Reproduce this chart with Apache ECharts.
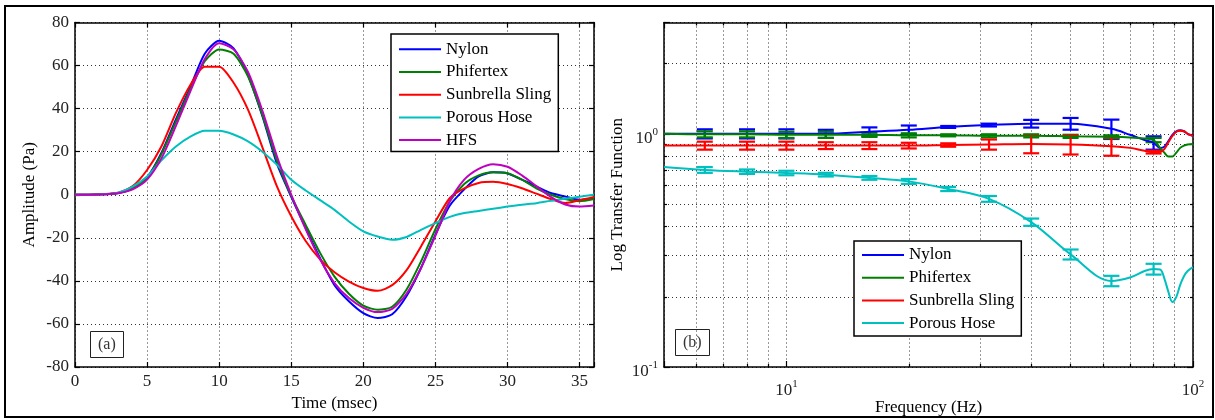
<!DOCTYPE html>
<html><head><meta charset="utf-8">
<script src="https://cdn.jsdelivr.net/npm/echarts@6/dist/echarts.min.js"></script>
<style>html,body{margin:0;padding:0;background:#fff}#c{width:1215px;height:420px}</style>
</head><body><div id="c"></div>
<script>
// ---------- Panel (a): time-domain pulses ----------
const timeMs = [0,1,2,3,4,5,6,7,8,9,10,11,12,13,14,15,16,17,18,19,20,21,22,23,24,25,26,27,28,29,30,31,32,33,34,35,36];
const nylonA = [0,0,0.2,0.8,3,8,19.5,35,50,65.5,71.5,68,55.5,36.5,14.5,-1,-15.5,-29.5,-42,-49.5,-55,-57.3,-55.5,-47,-34,-18.5,-5,2.5,8.5,10.4,9.9,7,3.9,0.8,-0.8,-2.3,-1.6];
const phifertexA = [0,0,0.2,0.8,3,8,19,34,49,62,67.5,65.5,55,37,16,-0.5,-14,-27,-38,-46,-51.5,-53.4,-52,-44,-31,-16,-3,5,9,10.5,10,7,3,0,-2,-3,-2];
const sunbrellaA = [0,0,0.3,1,4,11.5,22.5,38,51,59.5,59.5,52,39.5,22,4,-10,-21.5,-30,-36,-40.3,-43.3,-44.6,-42,-35,-24,-12.4,-1.5,3,5.5,6,5,3,0.5,-2,-3.8,-2.5,-1];
const porousA = [0,0,0.3,1,3.8,8.5,16,22.4,27,29.7,29.7,28,24.8,20,14,7,2,-2.5,-7,-12.4,-17,-19.4,-20.9,-19.6,-16.3,-13.2,-10.3,-8.5,-7.5,-6.5,-5.5,-4.6,-3.9,-2.8,-1.9,-0.9,0];
const hfsA = [0,0,0.2,0.7,2.5,7,17,32,48,63,70.4,67.5,57,39,18,0,-16,-30,-41,-48,-52.5,-54.5,-53,-46,-34,-19,-3,7,12,14.2,13,9,4,-1,-4.5,-5.5,-5];

// ---------- Panel (b): transfer functions ----------
const freqHz = [5,6.3,8,10,12.5,16,20,25,31.5,40,50,63,70,76,80,83,85,87,89,91,93,95,97,100];
const nylonB = [1.0,1.0,1.0,1.0,1.0,1.02,1.04,1.07,1.09,1.105,1.105,1.05,0.99,0.94,0.915,0.87,0.88,0.93,0.99,1.025,1.035,1.025,1.0,0.98];
const phifertexB = [1.0,0.995,0.995,0.99,0.99,0.99,0.985,0.985,0.98,0.98,0.975,0.97,0.965,0.955,0.94,0.87,0.83,0.80,0.80,0.83,0.87,0.89,0.90,0.905];
const sunbrellaB = [0.89,0.89,0.89,0.89,0.89,0.89,0.89,0.895,0.9,0.905,0.9,0.885,0.87,0.845,0.835,0.835,0.86,0.92,0.98,1.02,1.03,1.025,1.0,0.98];
const porousB = [0.72,0.70,0.688,0.679,0.668,0.647,0.625,0.58,0.526,0.418,0.304,0.234,0.242,0.258,0.263,0.262,0.24,0.21,0.19,0.2,0.225,0.245,0.258,0.268];
// error bars (third-octave centres), half-widths
const errFreqHz = [6.3,8,10,12.5,16,20,25,31.5,40,50,63,80];
const nylonErr = [0.045,0.045,0.045,0.04,0.045,0.045,0.01,0.015,0.042,0.064,0.1,0.06];
const phifertexErr = [0.03,0.03,0.03,0.03,0.02,0.02,0.01,0.015,0.015,0.015,0.015,0.02];
const sunbrellaErr = [0.035,0.035,0.035,0.03,0.03,0.025,0.015,0.045,0.08,0.085,0.08,0.012];
const porousErr = [0.02,0.015,0.015,0.012,0.012,0.015,0.012,0.015,0.015,0.015,0.012,0.014];

const namesA = ['Nylon','Phifertex','Sunbrella Sling','Porous Hose','HFS'];
const namesB = ['Nylon','Phifertex','Sunbrella Sling','Porous Hose'];
const xTicksA = [0,5,10,15,20,25,30,35];

const colors = ['#0000ff','#008000','#ff0000','#00bfbf','#bf00bf'];
const serif = 'Liberation Serif';
const axisLineStyle = {color:'#000', width:1.5};
const dotStyle = {color:'#333', width:1, type:[1,3]};
const labelColor = '#222';

const chart = echarts.init(document.getElementById('c'), null, {renderer:'canvas'});

const seriesA = [nylonA, phifertexA, sunbrellaA, porousA, hfsA].map((arr, k) => ({
  type:'line', name:namesA[k], xAxisIndex:0, yAxisIndex:0,
  data: timeMs.map((t,i)=>[t, arr[i]]),
  showSymbol:false, symbol:'none', smooth:0.25, color:colors[k],
  lineStyle:{width:2, color:colors[k]}, z:3
}));

const seriesB = [];
[[nylonB,nylonErr],[phifertexB,phifertexErr],[sunbrellaB,sunbrellaErr],[porousB,porousErr]].forEach((pair,k) => {
  const arr = pair[0], err = pair[1];
  seriesB.push({
    type:'line', name:namesB[k], xAxisIndex:2, yAxisIndex:2,
    data: freqHz.map((f,i)=>[f, arr[i]]),
    showSymbol:false, symbol:'none', smooth:0.35, color:colors[k],
    lineStyle:{width:2, color:colors[k]}, z:3
  });
  const errData = errFreqHz.map((f,i) => {
    const c = arr[freqHz.indexOf(f)];
    return [f, c - err[i], c + err[i]];
  });
  seriesB.push({
    type:'custom', name:namesB[k] + ' error', xAxisIndex:2, yAxisIndex:2,
    data: errData, clip:false, z:3,
    encode:{x:0, y:[1,2]},
    renderItem: function(params, api){
      const f = api.value(0);
      const lo = api.coord([f, api.value(1)]);
      const hi = api.coord([f, api.value(2)]);
      const hw = 8;
      const st = {stroke:colors[k], lineWidth:2.2};
      return {type:'group', children:[
        {type:'line', shape:{x1:lo[0], y1:lo[1], x2:hi[0], y2:hi[1]}, style:st},
        {type:'line', shape:{x1:lo[0]-hw, y1:lo[1], x2:lo[0]+hw, y2:lo[1]}, style:st},
        {type:'line', shape:{x1:hi[0]-hw, y1:hi[1], x2:hi[0]+hw, y2:hi[1]}, style:st}
      ]};
    }
  });
});

function powLabel(v){
  const e = Math.log10(v), r = Math.round(e);
  if (Math.abs(e - r) > 1e-6) return '';
  return '{b|10}{s|' + r + '}';
}
const powRich = {
  b:{fontSize:17, fontFamily:serif, color:labelColor, lineHeight:20, verticalAlign:'bottom'},
  s:{fontSize:11, fontFamily:serif, color:labelColor, lineHeight:9, verticalAlign:'top'}
};
const nameStyle = {fontSize:17, fontFamily:serif, color:'#000'};
const tickStyle = {color:'#000', width:1.2};

function linX(pos, main){
  return {gridIndex:0, type:'value', min:0, max:36, interval:5, position:pos,
    axisLine:{show:true, onZero:false, lineStyle:axisLineStyle},
    axisTick:{show:true, inside:true, length:5, lineStyle:tickStyle},
    axisLabel:{show:main, margin:6, color:labelColor, fontSize:17, fontFamily:serif,
      formatter: v => xTicksA.indexOf(v) >= 0 ? String(v) : ''},
    splitLine:{show:main, lineStyle:dotStyle},
    name: main ? 'Time (msec)' : '', nameLocation:'middle', nameGap:25, nameTextStyle:nameStyle};
}
function linY(pos, main){
  return {gridIndex:0, type:'value', min:-80, max:80, interval:20, position:pos,
    axisLine:{show:true, onZero:false, lineStyle:axisLineStyle},
    axisTick:{show:true, inside:true, length:5, lineStyle:tickStyle},
    axisLabel:{show:main, margin:6, color:labelColor, fontSize:17, fontFamily:serif},
    splitLine:{show:main, lineStyle:dotStyle},
    name: main ? 'Amplitude (Pa)' : '', nameLocation:'middle', nameGap:37, nameTextStyle:nameStyle};
}
function logX(pos, main){
  return {gridIndex:1, type:'log', logBase:10, min:5, max:100, position:pos,
    axisLine:{show:true, onZero:false, lineStyle:axisLineStyle},
    axisTick:{show:true, inside:true, length:6, lineStyle:tickStyle},
    minorTick:{show:true, splitNumber:9, length:3, lineStyle:tickStyle},
    axisLabel:{show:main, margin:12, formatter:powLabel, rich:powRich},
    splitLine:{show:main, lineStyle:dotStyle},
    minorSplitLine:{show:main, lineStyle:dotStyle},
    name: main ? 'Frequency (Hz)' : '', nameLocation:'middle', nameGap:32, nameMoveOverlap:false,
    nameTextStyle:nameStyle};
}
function logY(pos, main){
  return {gridIndex:1, type:'log', logBase:10, min:0.1, max:3, position:pos,
    axisLine:{show:true, onZero:false, lineStyle:axisLineStyle},
    axisTick:{show:true, inside:true, length:6, lineStyle:tickStyle},
    minorTick:{show:true, splitNumber:9, length:3, lineStyle:tickStyle},
    axisLabel:{show:main, margin:6, padding:[6,0,0,0], formatter:powLabel, rich:powRich},
    splitLine:{show:main, lineStyle:dotStyle},
    minorSplitLine:{show:main, lineStyle:dotStyle},
    name: main ? 'Log Transfer Function' : '', nameLocation:'middle', nameGap:38, nameTextStyle:nameStyle};
}

const legendCommon = {
  orient:'vertical', icon:'rect', itemWidth:42, itemHeight:2, itemGap:5.7,
  borderColor:'#000', borderWidth:1.5, backgroundColor:'#fff', selectedMode:false,
  textStyle:{fontSize:17, fontFamily:serif, color:'#000', lineHeight:17}
};
const boxTitle = {padding:[6,8,5,8], borderColor:'#222', borderWidth:1,
  textStyle:{fontSize:16, fontWeight:'normal', fontFamily:serif, color:'#333'}};

chart.setOption({
  animation:false,
  backgroundColor:'#fff',
  grid:[
    {left:75, top:22.5, width:519, height:344.5, containLabel:false, outerBoundsMode:'none'},
    {left:664, top:22.5, width:529, height:344.5, containLabel:false, outerBoundsMode:'none'}
  ],
  xAxis:[linX('bottom', true), linX('top', false), logX('bottom', true), logX('top', false)],
  yAxis:[linY('left', true), linY('right', false), logY('left', true), logY('right', false)],
  legend:[
    Object.assign({data:namesA, left:391, top:34, padding:[6.8,7,3,8]}, legendCommon),
    Object.assign({data:namesB, left:854, top:241, padding:[5.5,7,4.4,8]}, legendCommon)
  ],
  title:[
    Object.assign({text:'(a)', left:90, top:331}, boxTitle),
    Object.assign({text:'(b)', left:675, top:329}, boxTitle)
  ],
  graphic:[{type:'rect', silent:true, z:100,
    shape:{x:5, y:6, width:1208, height:411},
    style:{fill:'none', stroke:'#000', lineWidth:2}}],
  series: seriesA.concat(seriesB)
});
</script>
</body></html>
